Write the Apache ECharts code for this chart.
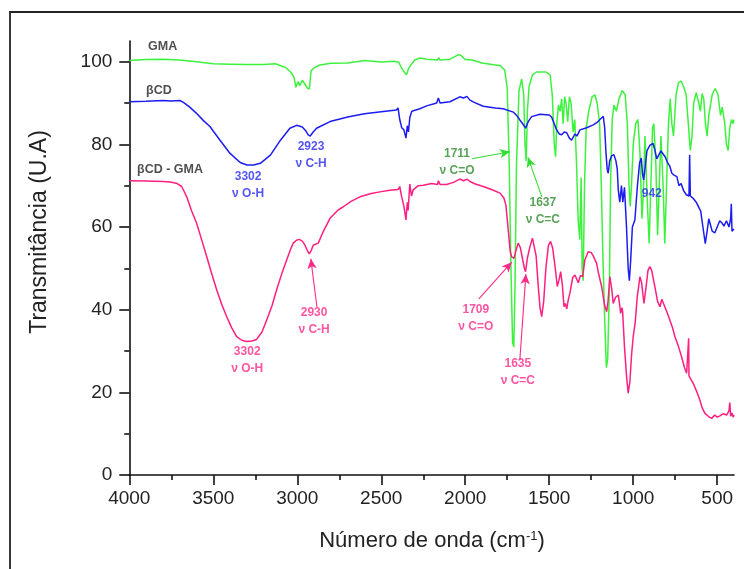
<!DOCTYPE html>
<html>
<head>
<meta charset="utf-8">
<script src="https://cdn.jsdelivr.net/npm/echarts@6/dist/echarts.min.js"></script>
<style>
html,body{margin:0;padding:0;background:#fff;}
#chart{width:744px;height:569px;}
</style>
</head>
<body>
<div id="chart"></div>
<script>
// ---------- DATA ----------
const xTicks = [4000, 3500, 3000, 2500, 2000, 1500, 1000, 500];
const xMinorTicks = [3750, 3250, 2750, 2250, 1750, 1250, 750];
const yTicks = [0, 20, 40, 60, 80, 100];
const yMinorTicks = [10, 30, 50, 70, 90];

const gmaWn = [4000,3900,3800,3700,3600,3500,3400,3300,3200,3130,3070,3040,3020,3008,2995,2985,2970,2955,2940,2928,2918,2900,2865,2800,2700,2600,2500,2420,2395,2378,2360,2350,2338,2320,2300,2270,2230,2165,2158,2150,2090,2040,2025,2000,1960,1900,1850,1790,1765,1750,1738,1728,1718,1711,1704,1695,1680,1664,1652,1644,1637,1630,1620,1600,1575,1520,1495,1482,1470,1462,1455,1445,1435,1426,1417,1408,1400,1390,1380,1370,1358,1348,1338,1328,1318,1310,1304,1298,1290,1280,1265,1245,1228,1215,1200,1190,1180,1170,1160,1152,1142,1135,1125,1115,1100,1085,1065,1048,1035,1025,1018,1010,1000,985,972,960,948,940,930,915,905,895,885,877,865,855,845,835,822,812,800,790,780,770,760,745,730,715,700,685,672,660,650,640,625,610,600,590,580,570,560,550,530,512,495,480,470,455,445,435,425,415,405,400];
const gmaT  = [100.3,100.5,100.6,100.4,100,99.5,99.4,99.3,99.3,99.5,98.6,97.5,96.3,93.8,95.2,94.2,95.5,94.6,93.6,93.4,97.8,98.5,99.2,99.6,99.7,100.3,99.9,100.1,99.8,98.4,97.3,96.8,98.3,99.4,100.4,100.9,100.6,100.4,101,100.4,100.6,101.7,101.5,100.5,100.4,99.7,99.4,99,98,93.5,75,50,32,31,45,75,93,95.8,92,80,76,88,94,96.8,97.5,97.5,96.8,92,80,77,85,89.5,88,91,85,91.5,90,85.5,91.5,90,83,86,76,62,57,72,50,47,70,84,88,91.5,92,90,85,70,52,38,26,28,45,70,86,89.5,88,91,93,92,85,70,65,70,80,85,86,78,62,68,82,65,56,70,84,85,75,58,70,82,70,56,72,85,91,85,82,92,95,95.3,94,92,85,78.5,82,90,92.5,90,88,92.3,91,85,82,87,92,93.5,92,87,89,85,80,78.5,84,86,85,86];

const bcdWn = [4000,3900,3800,3750,3700,3680,3640,3600,3560,3520,3460,3400,3340,3300,3260,3220,3160,3100,3044,3004,2970,2950,2935,2923,2905,2885,2805,2700,2600,2500,2410,2400,2390,2378,2365,2353,2345,2338,2330,2318,2270,2230,2170,2160,2150,2091,2032,2010,1990,1972,1950,1893,1820,1774,1714,1690,1675,1655,1641,1625,1605,1555,1500,1486,1470,1456,1440,1426,1410,1396,1380,1367,1347,1335,1317,1277,1238,1215,1198,1178,1170,1162,1155,1149,1140,1129,1115,1103,1095,1089,1080,1070,1062,1052,1040,1030,1023,1015,1005,990,975,962,952,945,938,930,918,900,882,870,860,850,835,825,810,795,783,770,755,740,728,715,700,684,668,664,660,645,625,610,598,585,571,560,550,542,530,514,500,485,472,460,445,430,420,416,412,405,400];
const bcdT  = [90.3,90.4,90.6,90.5,90.6,90.2,89,87.5,85.8,84.3,81,77.8,75.6,75,75,75.4,77.4,81,83.9,84.6,84.2,83.3,82.3,82,83,83.9,85.5,86.6,87.4,87.9,88.3,88.8,86,84,83.5,81.5,84.5,83,86.5,88,88.6,89.3,90,91.2,90,90.3,91.5,91.2,91.6,90.7,90.2,89.2,88.8,88.6,87.8,86.8,85.9,84.8,83.9,85.5,86.7,87.3,87.1,86.6,85,83.5,82.5,82.3,83,82.8,81.5,81,82.5,82,83.5,84,84.7,85.3,86,86.8,84,77.8,74,73,76,77.2,77.5,76,74,69,66,70,66,69.6,60,50,47,52,60,61.7,70,75.5,76.7,73,71.4,74,78.5,79.8,80.2,78.5,76.5,76.7,78.4,78,77,75.5,74.8,73,72.5,72.2,70,70.5,68.8,67.8,67.5,77.5,67.5,67,66,64.8,63.8,60,56,59,62,61.7,59,58.6,60,61.5,61,60.2,61.5,60,62,65.6,59,58.6,59.5];

const mixWn = [4000,3900,3800,3757,3720,3688,3658,3630,3599,3570,3539,3510,3480,3450,3420,3390,3361,3330,3301,3270,3242,3210,3182,3150,3123,3093,3063,3040,3024,3005,2988,2970,2954,2940,2929,2917,2905,2875,2850,2805,2760,2726,2680,2627,2560,2508,2450,2399,2390,2379,2365,2353,2345,2340,2330,2320,2310,2280,2250,2200,2165,2160,2150,2111,2070,2032,2010,1990,1972,1940,1893,1840,1793,1770,1758,1744,1732,1724,1710,1697,1685,1672,1660,1648,1641,1630,1615,1600,1590,1578,1566,1555,1545,1533,1520,1505,1492,1480,1466,1452,1440,1432,1422,1412,1404,1396,1386,1377,1360,1347,1337,1327,1314,1301,1288,1268,1250,1238,1228,1218,1205,1188,1170,1158,1150,1139,1128,1119,1105,1089,1080,1075,1067,1063,1052,1040,1030,1020,1010,1000,988,976,960,950,936,925,912,901,890,871,855,841,830,821,800,782,765,752,730,712,695,682,672,670,668,655,643,620,603,590,573,553,533,515,500,484,465,444,430,425,420,412,405,400];
const mixT  = [71.2,71.1,71.0,70.9,70.6,69.8,67.3,64,60.9,57,52.8,48.8,44.8,41.3,38.3,35.6,33.5,32.6,32.3,32.4,32.8,34.6,37.5,41,44.8,48.6,52,54.6,56.1,56.8,57.0,56.6,55.6,54.3,53.5,54.3,55.6,56.1,58.5,62.1,64,64.9,66.2,67.3,68.1,68.5,68.9,69.1,69.8,67.4,65,61.7,66,64,70.4,67.5,69,70,70.1,70.5,70.3,71.2,70.3,70.3,70.8,71.6,71.2,71.6,71.0,70.4,69.8,69,68.2,67,65.3,59.3,54,52.8,52.4,54.5,56.1,55,52.5,50,49.2,52.5,55.2,57.3,57.1,53,46,40.5,38.3,42,50,55.5,56.5,55,50.7,45.6,47.5,49.2,46,40.7,41.5,40.2,42.5,44,47.8,48.4,48,46.5,48.3,48,52,54,53.8,53,52.6,51.2,48.5,45.6,41,39.5,42,48,45,41.5,43,43.5,41,39.1,40.5,39.5,31,24,19.8,22.5,29,33.5,37,43.1,48,46.5,41.5,45,49.5,50.4,49.5,45.5,42,40.7,42.5,42.9,39.5,37.5,35.5,33.5,31,28.6,26,24.6,24.2,33.1,24,23,22.2,20,18.1,16.3,14.9,14.2,13.7,14.5,14,14.3,14.8,14.5,15.5,17.5,14.2,15,14,14.5];

// annotation texts and anchor points (data coordinates)
const blueText = '#2b2bf0', greenText = '#2e8b2e', pinkText = '#ff2a88';
const peakNotes = [
  {text: '3302\nν O-H', wn: 3293, t: 70.0, color: blueText},
  {text: '2923\nν C-H', wn: 2918, t: 77.4, color: blueText},
  {text: '942',          wn: 889,  t: 68.0, color: blueText},
  {text: '1711\nν C=O', wn: 2049, t: 75.6, color: greenText},
  {text: '1637\nν C=C', wn: 1538, t: 63.9, color: greenText},
  {text: '3302\nν O-H', wn: 3298, t: 27.7, color: pinkText},
  {text: '2930\nν C-H', wn: 2900, t: 37.3, color: pinkText},
  {text: '1709\nν C=O', wn: 1937, t: 37.9, color: pinkText},
  {text: '1635\nν C=C', wn: 1687, t: 24.8, color: pinkText}
];
const seriesTags = [
  {text: 'GMA',        wn: 3888, t: 103.6},
  {text: 'βCD',        wn: 3900, t: 92.9},
  {text: 'βCD - GMA',  wn: 3954, t: 74.0}
];
const arrowLines = [
  {from: [1960, 76.5], to: [1734, 78.2], color: '#33dd33'},
  {from: [1544, 67.3], to: [1627, 76.9], color: '#33dd33'},
  {from: [2883, 40.6], to: [2919, 52.3], color: '#ff2a88'},
  {from: [1919, 42.6], to: [1723, 51.5], color: '#ff2a88'},
  {from: [1675, 27.8], to: [1639, 48.6], color: '#ff2a88'}
];

// ---------- CHART ----------
const pairs = (w, t) => w.map((x, i) => [x, t[i]]);
const FONT = 'Liberation Sans, Arial, sans-serif';
const chart = echarts.init(document.getElementById('chart'), null, {renderer: 'canvas'});

const xBase = {type: 'value', min: 400, max: 4000, inverse: true, position: 'bottom', gridIndex: 0, splitLine: {show: false}};
const yBase = {type: 'value', min: 0, max: 105, position: 'left', gridIndex: 0, splitLine: {show: false}};
const plain = v => String(v);

chart.setOption({
  animation: false,
  backgroundColor: '#fff',
  grid: {left: 129.3, right: 10, top: 41, bottom: 94, containLabel: false},
  xAxis: [
    Object.assign({}, xBase, {
      axisLine: {show: true, onZero: false, lineStyle: {color: '#111', width: 1.6}},
      axisTick: {show: true, inside: false, length: 10, customValues: xTicks, lineStyle: {color: '#111', width: 1.6}},
      axisLabel: {show: true, customValues: xTicks, formatter: plain, margin: 14, fontSize: 19, color: '#222', fontFamily: FONT}
    }),
    Object.assign({}, xBase, {
      axisLine: {show: false, onZero: false},
      axisTick: {show: true, inside: false, length: 5, customValues: xMinorTicks, lineStyle: {color: '#111', width: 1.6}},
      axisLabel: {show: false}
    })
  ],
  yAxis: [
    Object.assign({}, yBase, {
      axisLine: {show: true, onZero: false, lineStyle: {color: '#111', width: 1.6}},
      axisTick: {show: true, inside: false, length: 10, customValues: yTicks, lineStyle: {color: '#111', width: 1.6}},
      axisLabel: {show: true, customValues: yTicks, formatter: plain, margin: 17, fontSize: 19, color: '#222', fontFamily: FONT}
    }),
    Object.assign({}, yBase, {
      axisLine: {show: false, onZero: false},
      axisTick: {show: true, inside: false, length: 5, customValues: yMinorTicks, lineStyle: {color: '#111', width: 1.6}},
      axisLabel: {show: false}
    })
  ],
  series: [
    {name: 'GMA', type: 'line', data: pairs(gmaWn, gmaT), showSymbol: false, symbol: 'none',
     lineStyle: {color: '#3df23d', width: 1.5}, itemStyle: {color: '#3df23d'}, z: 2},
    {name: 'βCD - GMA', type: 'line', data: pairs(mixWn, mixT), showSymbol: false, symbol: 'none',
     lineStyle: {color: '#ff1f80', width: 1.5}, itemStyle: {color: '#ff1f80'}, z: 3},
    {name: 'βCD', type: 'line', data: pairs(bcdWn, bcdT), showSymbol: false, symbol: 'none',
     lineStyle: {color: '#1c1cf0', width: 1.5}, itemStyle: {color: '#1c1cf0'}, z: 4},
    {name: 'notes', type: 'scatter', symbolSize: 0, silent: true, z: 6,
     data: peakNotes.map(n => ({value: [n.wn, n.t], label: {
       show: true, position: [0, 0], align: 'center', verticalAlign: 'middle',
       formatter: n.text, color: n.color, fontSize: 12, fontWeight: 'bold', lineHeight: 17, fontFamily: FONT}})),
     markLine: {silent: true, symbol: ['none', 'arrow'], symbolSize: [7, 10], animation: false,
       label: {show: false},
       data: arrowLines.map(a => [
         {coord: a.from, lineStyle: {color: a.color, width: 1.1, type: 'solid'}},
         {coord: a.to}
       ])}
    },
    {name: 'tags', type: 'scatter', symbolSize: 0, silent: true, z: 6,
     data: seriesTags.map(n => ({value: [n.wn, n.t], label: {
       show: true, position: [0, 0], align: 'left', verticalAlign: 'middle',
       formatter: n.text, color: '#222', fontSize: 12.5, fontWeight: 'bold', fontFamily: FONT}}))
    }
  ],
  graphic: [
    {type: 'rect', z: 0, shape: {x: 10, y: 12, width: 800, height: 700},
     style: {fill: 'none', stroke: '#222', lineWidth: 1.8}},
    {type: 'text', z: 10, x: 40, y: 232, rotation: Math.PI / 2,
     style: {text: 'Transmitância (U.A)', font: '23px ' + FONT, fill: '#222', align: 'center', verticalAlign: 'middle'}},
    {type: 'text', z: 10, x: 432, y: 541,
     style: {text: 'Número de onda (cm{sup|-1})', font: '22px ' + FONT, fill: '#222', align: 'center', verticalAlign: 'middle',
       rich: {sup: {fontSize: 13, verticalAlign: 'top', fill: '#222', fontFamily: FONT, padding: [0, 0, 10, 0]}}}}
  ]
});
</script>
</body>
</html>
